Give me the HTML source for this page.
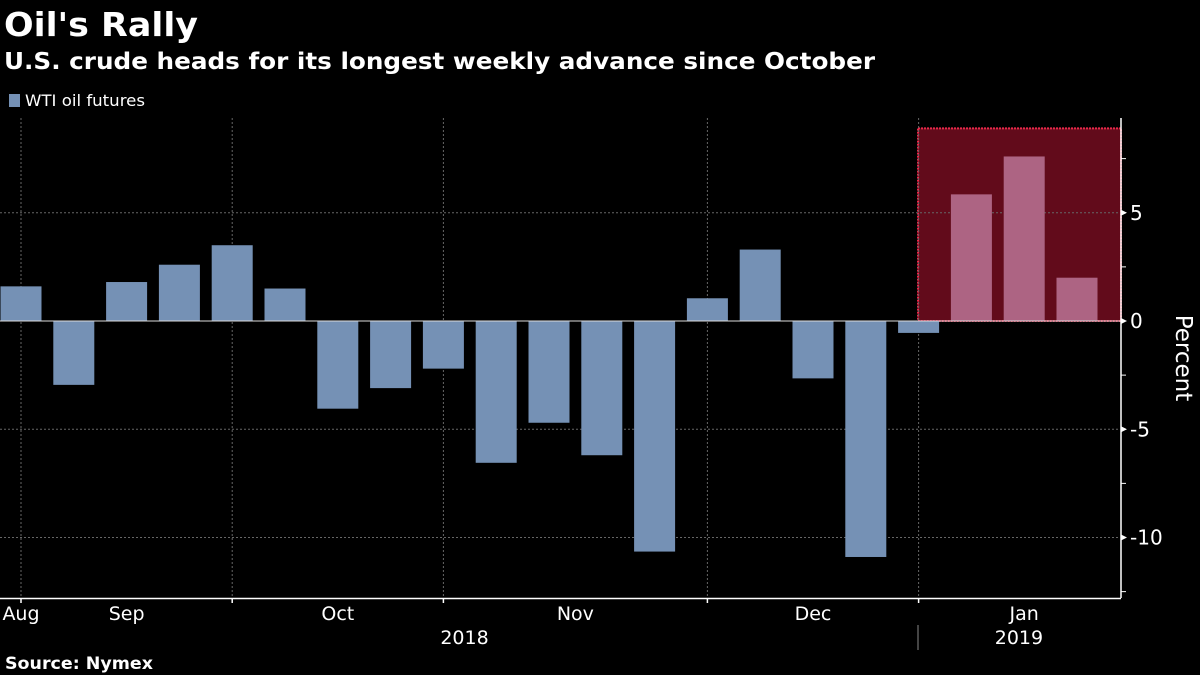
<!DOCTYPE html>
<html><head><meta charset="utf-8"><style>
html,body{margin:0;padding:0;background:#000;width:1200px;height:675px;overflow:hidden}
svg{display:block;font-family:"DejaVu Sans","Liberation Sans",sans-serif}
</style></head><body>
<svg id="chart" width="1200" height="675">
<text x="4" y="36" fill="#fff" font-size="33" font-weight="bold" textLength="194" lengthAdjust="spacingAndGlyphs">Oil's Rally</text>
<text x="4" y="69" fill="#fff" font-size="23" font-weight="bold" textLength="871" lengthAdjust="spacingAndGlyphs">U.S. crude heads for its longest weekly advance since October</text>
<rect x="9" y="94" width="11" height="13" fill="#7591b5"/>
<text x="25" y="106" fill="#fff" font-size="16" textLength="120" lengthAdjust="spacingAndGlyphs">WTI oil futures</text>
<text x="5" y="669" fill="#fff" font-size="17" font-weight="bold" textLength="148" lengthAdjust="spacingAndGlyphs">Source: Nymex</text>
<g id="plot"></g>
</svg>
<script>
const values=[1.6,-2.95,1.8,2.6,3.5,1.5,-4.05,-3.1,-2.2,-6.55,-4.7,-6.2,-10.65,1.05,3.3,-2.65,-10.9,-0.55,5.85,7.6,2.0];
const highlightStart=18;
const yTicks=[5,0,-5,-10];
const yTickLabels=["5","0","-5","-10"];
const months=["Aug","Sep","Oct","Nov","Dec","Jan"];
const monthPos=[0,2,6,10.5,15,19];
const yearLabels=["2018","2019"];
const yearPos=[8.4,18.9];
const gridIdx=[0,4,8,13,17];

const NS="http://www.w3.org/2000/svg";
const g=document.getElementById('plot');
const y=v=>321-v*21.65;
const xc=i=>21+i*52.8;
function el(t,a,p){const e=document.createElementNS(NS,t);for(const k in a)e.setAttribute(k,a[k]);(p||g).appendChild(e);return e;}
const hl=el('rect',{x:918,y:y(8.9),width:203,height:y(0)-y(8.9),fill:'#620b1b',stroke:'#e8284a','stroke-width':2,'stroke-dasharray':'2 1'});


yTicks.forEach(v=>{if(v!==0){const l=el('line',{x1:0,x2:1120,y1:y(v),y2:y(v),stroke:'#666','stroke-dasharray':'2 2'});

}});
gridIdx.forEach(i=>{const x=xc(i);const l=el('line',{x1:x,x2:x,y1:118,y2:598,stroke:'#666','stroke-dasharray':'2 2'});

});
values.forEach((v,i)=>{const hi=i>=highlightStart;const b=el('rect',{x:xc(i)-20.5,y:Math.min(y(v),y(0)),width:41,height:Math.abs(y(v)-y(0)),fill:hi?'#ad6483':'#7591b5'});

});
el('line',{x1:0,x2:1121,y1:y(0),y2:y(0),stroke:'#ddd','stroke-width':1});
el('line',{x1:1121,x2:1121,y1:118,y2:598,stroke:'#fff','stroke-width':1.5});
el('line',{x1:0,x2:1121,y1:598.5,y2:598.5,stroke:'#fff','stroke-width':1.5});
for(let v=-12.5;v<=7.5;v+=2.5){el('line',{x1:1121,x2:1126,y1:y(v),y2:y(v),stroke:'#fff'});}
yTicks.forEach((v,k)=>{el('path',{d:`M1121 ${y(v)-3}L1127 ${y(v)}L1121 ${y(v)+3}Z`,fill:'#fff'});
const t=el('text',{x:1130,y:y(v)+7,fill:'#fff','font-size':20});t.textContent=yTickLabels[k];

});
const yt=el('text',{x:1176,y:358,fill:'#fff','font-size':23,'text-anchor':'middle',transform:'rotate(90 1176 358)'});yt.textContent='Percent';


gridIdx.forEach(i=>{const x=xc(i);el('line',{x1:x,x2:x,y1:598,y2:603,stroke:'#fff','stroke-width':1.5});});
months.forEach((m,k)=>{const t=el('text',{x:xc(monthPos[k]),y:620,fill:'#fff','font-size':19,'text-anchor':'middle'});t.textContent=m;

});
yearLabels.forEach((m,k)=>{const t=el('text',{x:xc(yearPos[k]),y:644,fill:'#fff','font-size':19,'text-anchor':'middle'});t.textContent=m;

});
el('line',{x1:918,x2:918,y1:625,y2:650,stroke:'#888'});
</script>
</body></html>
